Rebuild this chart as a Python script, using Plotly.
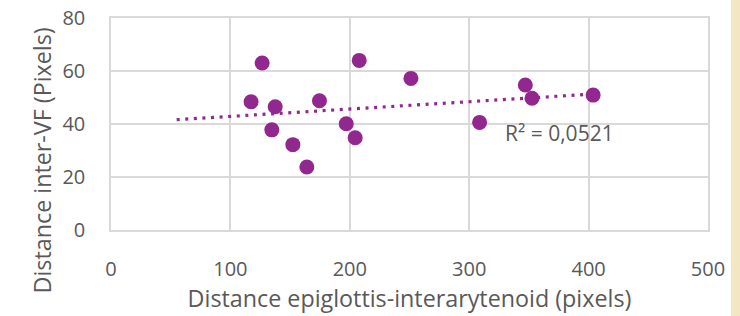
import numpy as np
import plotly.graph_objects as go

# Data
x_epiglottis = [117.3, 126.6, 137.5, 134.7, 152.3, 164.0, 174.6, 197.0, 204.5,
                207.9, 251.2, 308.7, 347.0, 352.6, 403.8]
y_inter_vf = [48.4, 63.0, 46.5, 37.8, 32.2, 23.8, 48.8, 40.1, 34.8,
              64.0, 57.2, 40.6, 54.7, 49.7, 50.9]
r2_label = "R² = 0,0521"
trend_start_x = 55
x_title = "Distance epiglottis-interarytenoid (pixels)"
y_title = "Distance inter-VF (Pixels)"

PURPLE = "#92278F"
GRID = "#D9D9D9"
TEXT = "#595959"
FONT = "Open Sans"

slope, intercept = np.polyfit(x_epiglottis, y_inter_vf, 1)
trend_x = [trend_start_x, max(x_epiglottis)]
trend_y = [slope * v + intercept for v in trend_x]

fig = go.Figure()
fig.add_trace(go.Scatter(
    x=trend_x, y=trend_y, mode="lines",
    line=dict(color=PURPLE, width=3.2, dash="3px,5.6px"),
    hoverinfo="skip", showlegend=False))
fig.add_trace(go.Scatter(
    x=x_epiglottis, y=y_inter_vf, mode="markers",
    marker=dict(color=PURPLE, size=15, line=dict(width=0)),
    showlegend=False))

fig.add_annotation(x=376, y=36.7, xref="x", yref="y", text=r2_label,
                   showarrow=False, font=dict(family=FONT, size=21, color=TEXT))

# y-axis title, centred on the whole chart height as in the reference
fig.add_annotation(x=-0.1156, y=0.328, xref="paper", yref="paper", text=y_title,
                   textangle=-90, showarrow=False, xanchor="center", yanchor="middle",
                   font=dict(family=FONT, size=23.3, color=TEXT))

# beige strip at the right edge
fig.add_shape(type="rect", xref="paper", yref="paper",
              x0=1.0385, x1=1.07, y0=-0.41, y1=1.09,
              fillcolor="#F2E7C2", line=dict(width=0), layer="below")

fig.update_layout(
    width=740, height=316,
    margin=dict(l=111, r=32, t=18, b=86),
    paper_bgcolor="white", plot_bgcolor="white",
    font=dict(family=FONT, color=TEXT),
)
fig.update_xaxes(
    range=[0, 500], dtick=100, tick0=0,
    showgrid=True, gridcolor=GRID, gridwidth=1.5,
    showline=True, linecolor=GRID, linewidth=1.5, mirror=True,
    zeroline=False, ticks="", ticklabelstandoff=20,
    tickfont=dict(family=FONT, size=20, color=TEXT),
    title=dict(text=x_title, font=dict(family=FONT, size=23.3, color=TEXT), standoff=10),
    automargin=False, fixedrange=True)
fig.update_yaxes(
    range=[0, 80], dtick=20, tick0=0,
    showgrid=True, gridcolor=GRID, gridwidth=1.5,
    showline=True, linecolor=GRID, linewidth=1.5, mirror=True,
    zeroline=False, ticks="", ticklabelstandoff=20,
    tickfont=dict(family=FONT, size=20, color=TEXT),
    automargin=False, fixedrange=True)

fig.write_html("out.html", config={"displayModeBar": False},
               post_script="document.body.style.margin='0px';document.body.style.padding='0px';")
